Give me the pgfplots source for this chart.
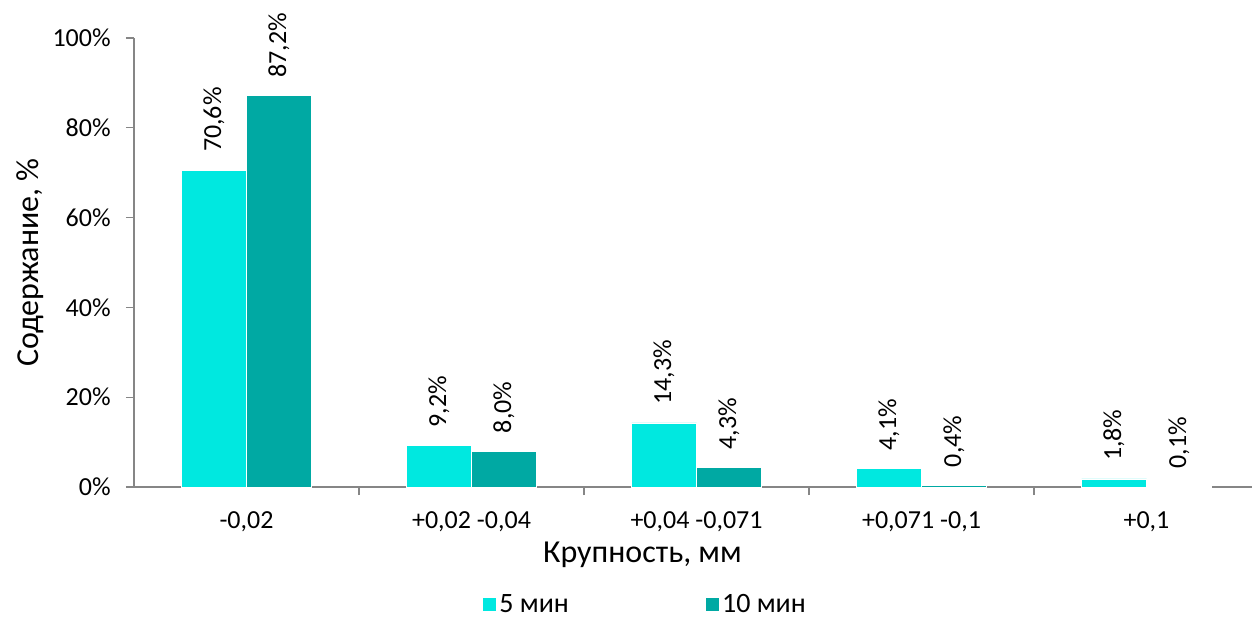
\documentclass[border=0pt]{standalone}
\usepackage{pgfplots}
\pgfplotsset{compat=1.18}
\usepackage{fontspec}
\setmainfont{Carlito}

\definecolor{fivemin}{RGB}{0,232,224}
\definecolor{tenmin}{RGB}{0,169,163}
\definecolor{axgray}{RGB}{134,134,134}

\begin{document}
\begin{tikzpicture}
% fixed page: 1252x619 px at 0.75pt/px, axis box at (0,0)
\useasboundingbox (-100.5pt,-99pt) rectangle (838.5pt,365.25pt);
\begin{axis}[
    scale only axis,
    width=843.75pt, height=336.75pt,
    ybar=0pt,
    bar width=48.75pt,
    xmin=-0.5, xmax=4.5,
    ymin=0, ymax=100,
    ytick={0,20,...,100},
    yticklabel={\pgfmathprintnumber{\tick}\%},
    xtick={0,1,2,3,4},
    xticklabels={-0{,}02, +0{,}02 -0{,}04, +0{,}04 -0{,}071, +0{,}071 -0{,}1, +0{,}1},
    minor xtick={0.5,1.5,2.5,3.5},
    major x tick style={draw=none},
    minor x tick style={axgray, line width=1pt},
    y tick style={axgray, line width=1pt},
    tick align=outside,
    major tick length=6pt,
    minor tick length=6pt,
    axis x line*=bottom,
    axis y line*=left,
    axis line style={-, axgray},
    x axis line style={line width=1.5pt},
    y axis line style={line width=1pt},
    /pgf/number format/assume math mode=true,
    tick label style={font=\fontsize{19.5}{21}\selectfont},
    xticklabel style={yshift=-9pt},
    yticklabel style={xshift=-8pt},
    xlabel={Крупность, мм},
    ylabel={Содержание, \%},
    label style={font=\fontsize{24}{26}\selectfont},
    xlabel style={at={(axis description cs:0.452,-0.151)}, anchor=center},
    ylabel style={at={(axis description cs:-0.092,0.5)}, anchor=center},
    clip=false,
    enlargelimits=false,
    nodes near coords={\pgfmathprintnumber[fixed,fixed zerofill,precision=1,use comma]{\pgfplotspointmeta}\%},
    every node near coord/.append style={rotate=90, anchor=west, font=\fontsize{19.5}{21}\selectfont, xshift=10pt},
    legend columns=2,
    legend style={draw=none, at={(0.4545,-0.262)}, anchor=center,
        font=\fontsize{21}{23}\selectfont,
        /tikz/every even column/.append style={column sep=100pt}},
    legend image code/.code={\fill[#1] (0pt,-5pt) rectangle (10.5pt,5.5pt);},
]
\addplot[fill=fivemin, draw=white, line width=0.4pt] coordinates {
    (0,70.6) (1,9.2) (2,14.3) (3,4.1) (4,1.8)
};
\addplot[fill=tenmin, draw=white, line width=0.4pt] coordinates {
    (0,87.2) (1,8.0) (2,4.3) (3,0.4) (4,0.1)
};
\legend{5 мин, 10 мин}
\end{axis}
\end{tikzpicture}
\end{document}
